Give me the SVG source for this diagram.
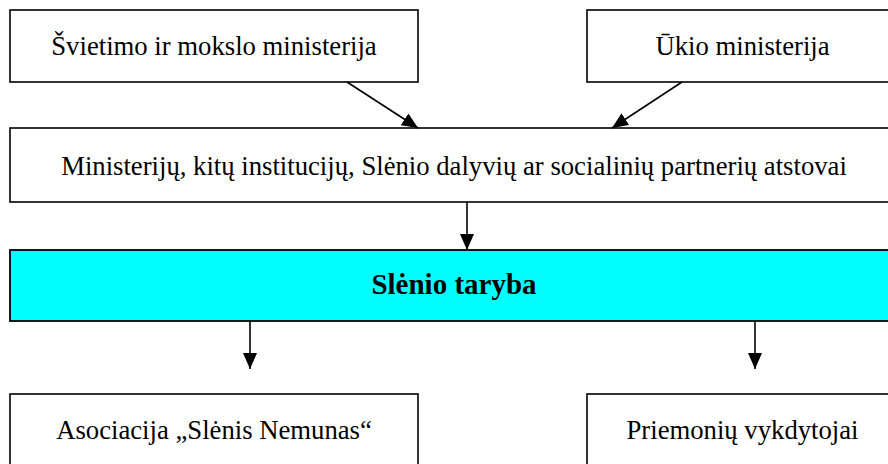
<svg xmlns="http://www.w3.org/2000/svg" width="888" height="464" viewBox="0 0 888 464">
  <style>
    .box { fill: #ffffff; stroke: #000000; stroke-width: 1.6; }
    .hl { fill: #00ffff; stroke: #000000; stroke-width: 1.8; }
    .t { font-family: "Liberation Serif", "Times New Roman", serif; font-size: 26.7px; fill: #000000; text-anchor: middle; }
    .tb { font-family: "Liberation Serif", "Times New Roman", serif; font-size: 29px; font-weight: bold; fill: #000000; text-anchor: middle; }
    .c { stroke: #000000; stroke-width: 1.6; fill: none; marker-end: url(#ah); }
  </style>
  <defs>
    <marker id="ah" viewBox="0 0 16 14" refX="16" refY="7" markerWidth="16" markerHeight="14" markerUnits="userSpaceOnUse" orient="auto">
      <path d="M0,0 L16,7 L0,14 Z" fill="#000000"/>
    </marker>
  </defs>
  <rect width="888" height="464" fill="#ffffff"/>

  <g id="svietimo">
    <rect class="box" x="10" y="10" width="408" height="72"/>
    <text class="t" x="214" y="55">Švietimo ir mokslo ministerija</text>
  </g>
  <g id="ukio">
    <rect class="box" x="587" y="10" width="311" height="72"/>
    <text class="t" x="742.5" y="55">Ūkio ministerija</text>
  </g>
  <g id="atstovai">
    <rect class="box" x="10" y="128" width="888" height="74"/>
    <text class="t" x="454" y="175">Ministerijų, kitų institucijų, Slėnio dalyvių ar socialinių partnerių atstovai</text>
  </g>
  <g id="taryba">
    <rect class="hl" x="10" y="250" width="888" height="71"/>
    <text class="tb" x="454" y="294">Slėnio taryba</text>
  </g>
  <g id="asociacija">
    <rect class="box" x="10" y="394" width="408" height="80"/>
    <text class="t" x="214" y="439">Asociacija „Slėnis Nemunas“</text>
  </g>
  <g id="priemoniu">
    <rect class="box" x="587" y="394" width="311" height="80"/>
    <text class="t" x="742.5" y="439">Priemonių vykdytojai</text>
  </g>

  <g id="connectors">
    <line class="c" x1="347" y1="82" x2="418" y2="128"/>
    <line class="c" x1="682" y1="82" x2="612" y2="128"/>
    <line class="c" x1="467" y1="202" x2="467" y2="250"/>
    <line class="c" x1="250" y1="321" x2="250" y2="369"/>
    <line class="c" x1="755" y1="321" x2="755" y2="369"/>
  </g>
</svg>
